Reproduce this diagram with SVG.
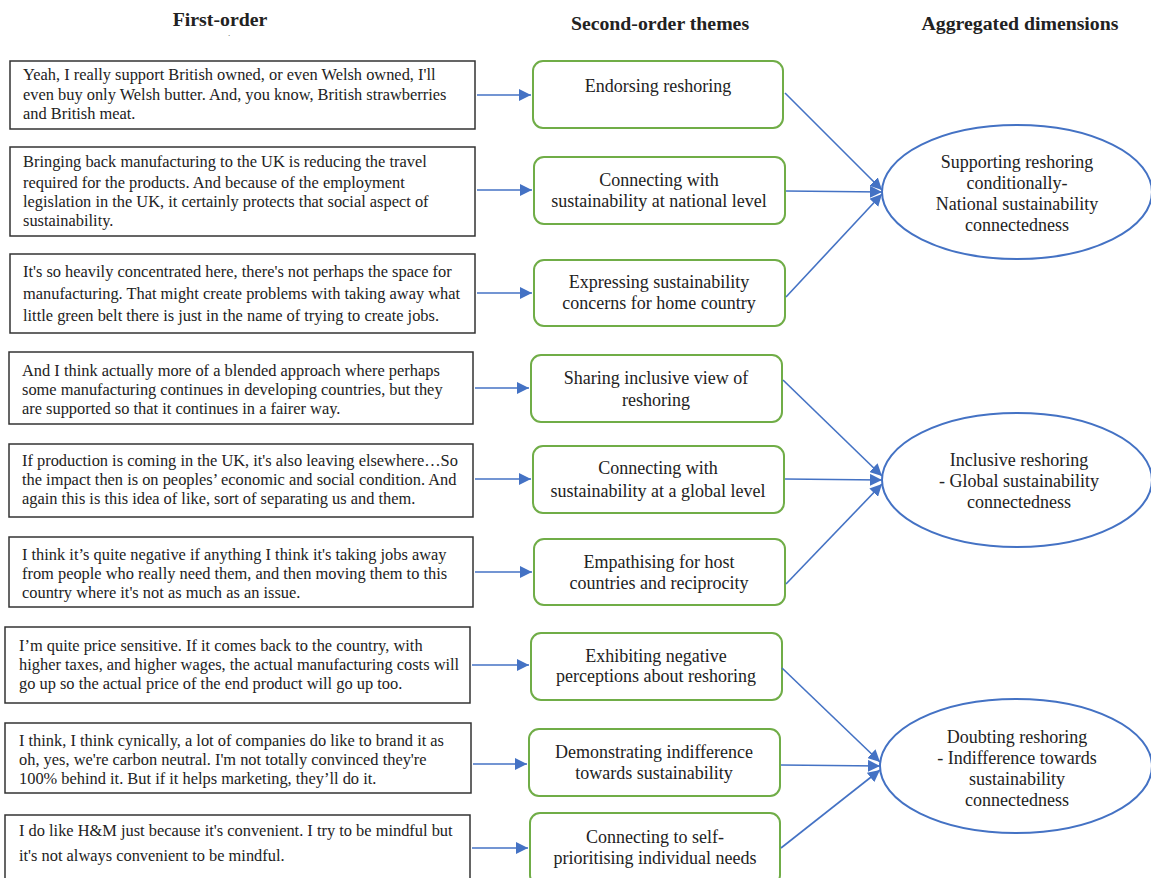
<svg xmlns="http://www.w3.org/2000/svg" width="1151" height="878" viewBox="0 0 1151 878">
<style>
text{font-family:"Liberation Serif","Times New Roman",serif;fill:#222}
.h{font-weight:bold;font-size:19.8px;text-anchor:middle}
.q rect{fill:#fff;stroke:#333;stroke-width:1.5}
.q text{font-size:16.4px}
.t rect{fill:#fff;stroke:#70AD47;stroke-width:2}
.t text{font-size:18px;text-anchor:middle}
.d ellipse{fill:#fff;stroke:#4472C4;stroke-width:2}
.d text{font-size:18px;text-anchor:middle}
#connectors line{stroke:#4472C4;stroke-width:1.6;marker-end:url(#ah)}
</style>
<defs>
<marker id="ah" markerUnits="userSpaceOnUse" markerWidth="14" markerHeight="12" refX="12" refY="6" orient="auto">
<path d="M0,0 L12,6 L0,12 Z" fill="#4472C4"/>
</marker>
</defs>
<rect width="1151" height="878" fill="#fff"/>
<g id="headers">
<text class="h" x="220" y="26">First-order</text>
<text x="229" y="36" font-size="7" text-anchor="middle">.</text>
<text class="h" x="660" y="30">Second-order themes</text>
<text class="h" x="1020" y="30">Aggregated dimensions</text>
</g>
<g id="q1" class="q"><rect x="10" y="61" width="465" height="68"/>
<text x="23" y="80">Yeah, I really support British owned, or even Welsh owned, I'll</text>
<text x="23" y="100">even buy only Welsh butter. And, you know, British strawberries</text>
<text x="23" y="119">and British meat.</text></g>
<g id="q2" class="q"><rect x="10" y="147" width="465" height="89"/>
<text x="23" y="167">Bringing back manufacturing to the UK is reducing the travel</text>
<text x="23" y="188">required for the products. And because of the employment</text>
<text x="23" y="207">legislation in the UK, it certainly protects that social aspect of</text>
<text x="23" y="226">sustainability.</text></g>
<g id="q3" class="q"><rect x="10" y="254" width="465" height="79"/>
<text x="23" y="277">It's so heavily concentrated here, there's not perhaps the space for</text>
<text x="23" y="299">manufacturing. That might create problems with taking away what</text>
<text x="23" y="321">little green belt there is just in the name of trying to create jobs.</text></g>
<g id="q4" class="q"><rect x="9" y="352" width="464" height="72"/>
<text x="22" y="376">And I think actually more of a blended approach where perhaps</text>
<text x="22" y="395">some manufacturing continues in developing countries, but they</text>
<text x="22" y="414">are supported so that it continues in a fairer way.</text></g>
<g id="q5" class="q"><rect x="9" y="444" width="464" height="73"/>
<text x="22" y="466">If production is coming in the UK, it's also leaving elsewhere…So</text>
<text x="22" y="485">the impact then is on peoples’ economic and social condition. And</text>
<text x="22" y="504">again this is this idea of like, sort of separating us and them.</text></g>
<g id="q6" class="q"><rect x="9" y="537" width="464" height="70"/>
<text x="22" y="560">I think it’s quite negative if anything I think it's taking jobs away</text>
<text x="22" y="579">from people who really need them, and then moving them to this</text>
<text x="22" y="598">country where it's not as much as an issue.</text></g>
<g id="q7" class="q"><rect x="5" y="627" width="465" height="76"/>
<text x="19" y="651">I’m quite price sensitive. If it comes back to the country, with</text>
<text x="19" y="670">higher taxes, and higher wages, the actual manufacturing costs will</text>
<text x="19" y="689">go up so the actual price of the end product will go up too.</text></g>
<g id="q8" class="q"><rect x="5" y="723" width="466" height="70"/>
<text x="19" y="746">I think, I think cynically, a lot of companies do like to brand it as</text>
<text x="19" y="765">oh, yes, we're carbon neutral. I'm not totally convinced they're</text>
<text x="19" y="784">100% behind it. But if it helps marketing, they’ll do it.</text></g>
<g id="q9" class="q"><rect x="5" y="815" width="465" height="70"/>
<text x="19" y="836">I do like H&amp;M just because it's convenient. I try to be mindful but</text>
<text x="19" y="861">it's not always convenient to be mindful.</text></g>

<g id="t1" class="t"><rect x="533" y="61" width="250" height="67" rx="10"/>
<text x="658" y="92">Endorsing reshoring</text></g>
<g id="t2" class="t"><rect x="534" y="157" width="251" height="67" rx="10"/>
<text x="659" y="186">Connecting with</text>
<text x="659" y="207">sustainability at national level</text></g>
<g id="t3" class="t"><rect x="534" y="260" width="251" height="66" rx="10"/>
<text x="659" y="288">Expressing sustainability</text>
<text x="659" y="309">concerns for home country</text></g>
<g id="t4" class="t"><rect x="531" y="355" width="251" height="67" rx="10"/>
<text x="656" y="384">Sharing inclusive view of</text>
<text x="656" y="406">reshoring</text></g>
<g id="t5" class="t"><rect x="533" y="446" width="251" height="67" rx="10"/>
<text x="658" y="474">Connecting with</text>
<text x="658" y="497">sustainability at a global level</text></g>
<g id="t6" class="t"><rect x="534" y="539" width="251" height="66" rx="10"/>
<text x="659" y="568">Empathising for host</text>
<text x="659" y="589">countries and reciprocity</text></g>
<g id="t7" class="t"><rect x="531" y="633" width="251" height="67" rx="10"/>
<text x="656" y="662">Exhibiting negative</text>
<text x="656" y="682">perceptions about reshoring</text></g>
<g id="t8" class="t"><rect x="529" y="729" width="251" height="67" rx="10"/>
<text x="654" y="758">Demonstrating indifference</text>
<text x="654" y="779">towards sustainability</text></g>
<g id="t9" class="t"><rect x="530" y="813" width="250" height="72" rx="10"/>
<text x="655" y="843">Connecting to self-</text>
<text x="655" y="864">prioritising individual needs</text></g>

<g id="d1" class="d"><ellipse cx="1017" cy="192" rx="135" ry="67"/>
<text x="1017" y="168">Supporting reshoring</text>
<text x="1017" y="189">conditionally-</text>
<text x="1017" y="210">National sustainability</text>
<text x="1017" y="231">connectedness</text></g>
<g id="d2" class="d"><ellipse cx="1017" cy="480" rx="135" ry="67"/>
<text x="1019" y="466">Inclusive reshoring</text>
<text x="1019" y="487">- Global sustainability</text>
<text x="1019" y="508">connectedness</text></g>
<g id="d3" class="d"><ellipse cx="1016" cy="766" rx="136" ry="67"/>
<text x="1017" y="743">Doubting reshoring</text>
<text x="1017" y="764">- Indifference towards</text>
<text x="1017" y="785">sustainability</text>
<text x="1017" y="806">connectedness</text></g>

<g id="connectors">
<line x1="477" y1="95" x2="531" y2="95"/>
<line x1="477" y1="190" x2="532" y2="190"/>
<line x1="477" y1="293" x2="532" y2="293"/>
<line x1="475" y1="388" x2="529" y2="388"/>
<line x1="475" y1="479" x2="531" y2="479"/>
<line x1="475" y1="572" x2="532" y2="572"/>
<line x1="472" y1="665" x2="529" y2="665"/>
<line x1="473" y1="764" x2="527" y2="764"/>
<line x1="472" y1="848" x2="528" y2="848"/>
<line x1="785" y1="93" x2="882" y2="190"/>
<line x1="786" y1="191" x2="882" y2="192"/>
<line x1="786" y1="297" x2="882" y2="194"/>
<line x1="783" y1="380" x2="882" y2="476"/>
<line x1="785" y1="479" x2="882" y2="480"/>
<line x1="786" y1="584" x2="882" y2="484"/>
<line x1="782" y1="668" x2="880" y2="762"/>
<line x1="781" y1="765" x2="880" y2="766"/>
<line x1="781" y1="848" x2="880" y2="770"/>
</g>
</svg>
